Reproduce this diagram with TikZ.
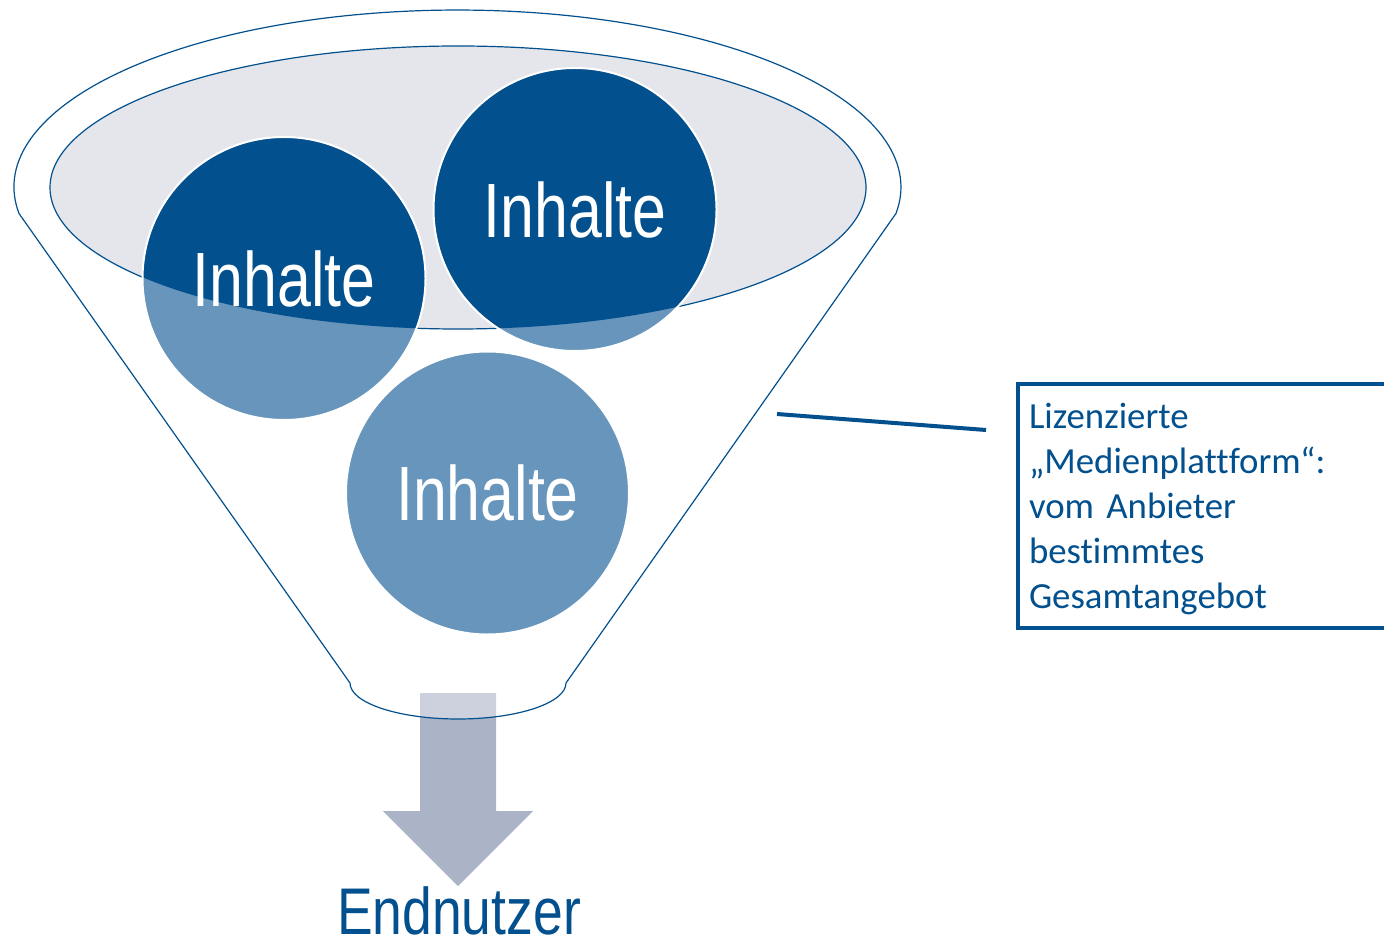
\documentclass[tikz,border=0pt]{standalone}
\usepackage{fontspec}
\usepackage{xcolor}
\usepackage{tikz}
\newfontfamily\narrowsf[FakeStretch=0.79]{Liberation Sans}
\newfontfamily\widesf[FakeStretch=0.81]{Liberation Sans}
\newfontfamily\boxsf[Ligatures={NoCommon}]{Carlito}
\definecolor{fdark}{RGB}{2,80,141}
\definecolor{flight}{RGB}{103,149,187}
\definecolor{fgray}{RGB}{228,230,236}
\definecolor{farrow}{RGB}{171,179,199}

\begin{document}
\begin{tikzpicture}[x=0.5pt,y=0.5pt,inner sep=0pt,
  disc/.style={shape=circle, minimum size=141.5pt, fill=flight, draw=white, line width=1pt, text=white, font=\narrowsf\fontsize{38.5}{40}\selectfont, path picture={\fill[fdark] (e0) ellipse [x radius=408, y radius=141.5];}},
  rim/.style={draw=fdark, line width=0.6pt}]
\useasboundingbox (0,0) rectangle (1384,-940);
\coordinate (e0) at (458,-187.5);
\coordinate (c0) at (777,-414);
\coordinate (c1) at (986,-430);

\path [fill=farrow] (420,-693) -- (496,-693) -- (496,-811) -- (533,-811) -- (458,-886) -- (383,-811) -- (420,-811) -- cycle;
\path [rim, fill=white, fill opacity=0.4] (19,-213.5) arc [start angle=188.6, end angle=-8.6, x radius=443.5, y radius=177] -- (566,-683) arc [start angle=0, end angle=-180, x radius=108, y radius=36] -- cycle;
\path [rim, fill=fgray] (e0) ellipse [x radius=408, y radius=141.5];

\node (n0) [disc, at={(284,-278.5)}] {Inhalte};
\node (n1) [disc, at={(575,-209.5)}] {Inhalte};
\node (n2) [disc, at={(487.5,-493)}] {Inhalte};
\node (n3) [at={(459,-934)}, anchor=base, text=fdark, font=\widesf\fontsize{33}{34}\selectfont] {Endnutzer};
\node (n4) [at={(1018,-384)}, anchor=north west, outer sep=0pt, draw=fdark, line width=2pt, inner xsep=5.5pt, text width=190pt, minimum height=122pt, align=left, text=fdark, font=\boxsf\fontsize{18.4}{22.5}\selectfont] {\rule{0pt}{16pt}Lizenzierte\\„Medienplattform“:\\vom Anbieter\\bestimmtes\\Gesamtangebot};

\path [draw=fdark, line width=2pt] (c0)--(c1);
\end{tikzpicture}
\end{document}
